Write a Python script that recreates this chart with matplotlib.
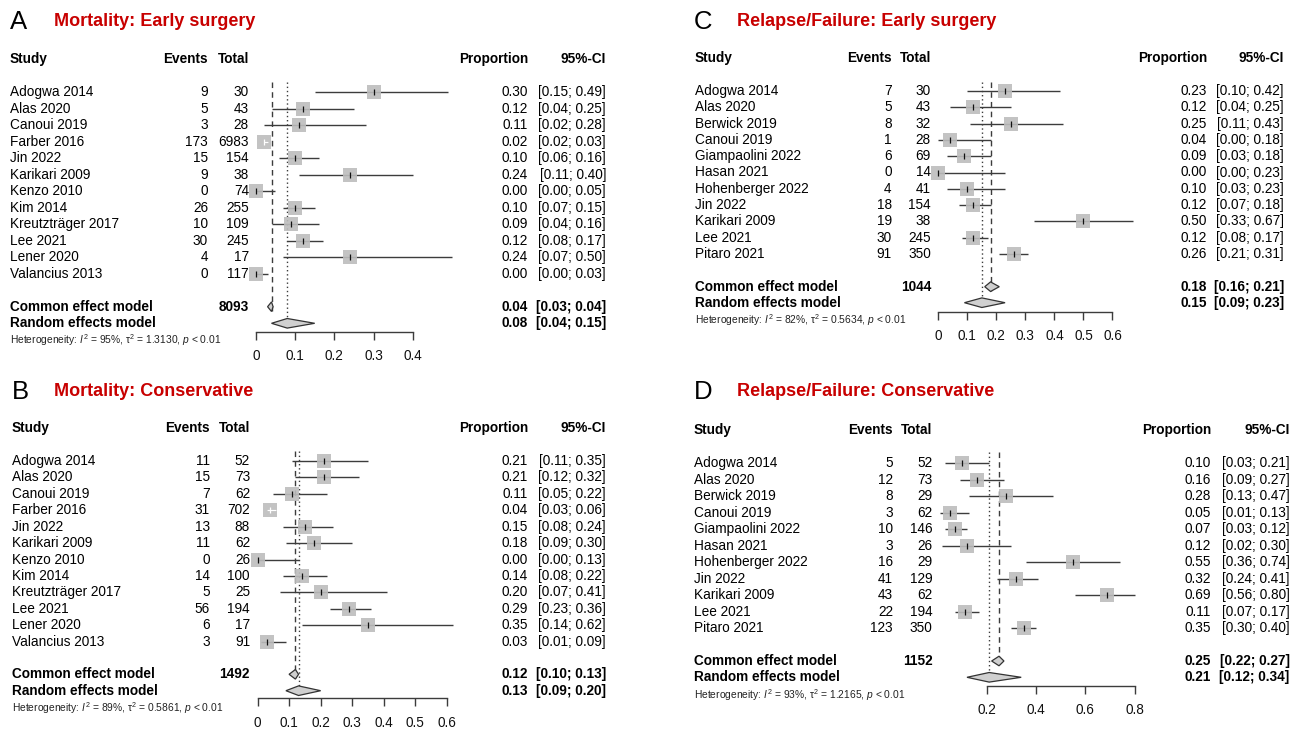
import matplotlib
matplotlib.use("Agg")
import matplotlib.pyplot as plt
import numpy as np

plt.rcParams['font.family'] = ['Liberation Sans', 'DejaVu Sans']
plt.rcParams['mathtext.fontset'] = 'custom'
plt.rcParams['mathtext.rm'] = 'Liberation Sans'
plt.rcParams['mathtext.it'] = 'Liberation Sans:italic'
plt.rcParams['mathtext.bf'] = 'Liberation Sans:bold'

W, H = 1301, 730

# ---------------- data ----------------
# Panel A: Mortality, early surgery
studies_A = ["Adogwa 2014", "Alas 2020", "Canoui 2019", "Farber 2016", "Jin 2022",
             "Karikari 2009", "Kenzo 2010", "Kim 2014", "Kreutzträger 2017",
             "Lee 2021", "Lener 2020", "Valancius 2013"]
events_A = [9, 5, 3, 173, 15, 9, 0, 26, 10, 30, 4, 0]
totals_A = [30, 43, 28, 6983, 154, 38, 74, 255, 109, 245, 17, 117]
prop_A = [0.30, 0.12, 0.11, 0.02, 0.10, 0.24, 0.00, 0.10, 0.09, 0.12, 0.24, 0.00]
lo_A = [0.15, 0.04, 0.02, 0.02, 0.06, 0.11, 0.00, 0.07, 0.04, 0.08, 0.07, 0.00]
hi_A = [0.49, 0.25, 0.28, 0.03, 0.16, 0.40, 0.05, 0.15, 0.16, 0.17, 0.50, 0.03]
common_A = [8093, 0.04, 0.03, 0.04]
random_A = [0.08, 0.04, 0.15]
het_A = ["95%", "1.3130", "< 0.01"]
ticks_A = [0, 0.1, 0.2, 0.3, 0.4]
ticklab_A = ["0", "0.1", "0.2", "0.3", "0.4"]

# Panel B: Mortality, conservative
studies_B = ["Adogwa 2014", "Alas 2020", "Canoui 2019", "Farber 2016", "Jin 2022",
             "Karikari 2009", "Kenzo 2010", "Kim 2014", "Kreutzträger 2017",
             "Lee 2021", "Lener 2020", "Valancius 2013"]
events_B = [11, 15, 7, 31, 13, 11, 0, 14, 5, 56, 6, 3]
totals_B = [52, 73, 62, 702, 88, 62, 26, 100, 25, 194, 17, 91]
prop_B = [0.21, 0.21, 0.11, 0.04, 0.15, 0.18, 0.00, 0.14, 0.20, 0.29, 0.35, 0.03]
lo_B = [0.11, 0.12, 0.05, 0.03, 0.08, 0.09, 0.00, 0.08, 0.07, 0.23, 0.14, 0.01]
hi_B = [0.35, 0.32, 0.22, 0.06, 0.24, 0.30, 0.13, 0.22, 0.41, 0.36, 0.62, 0.09]
common_B = [1492, 0.12, 0.10, 0.13]
random_B = [0.13, 0.09, 0.20]
het_B = ["89%", "0.5861", "< 0.01"]
ticks_B = [0, 0.1, 0.2, 0.3, 0.4, 0.5, 0.6]
ticklab_B = ["0", "0.1", "0.2", "0.3", "0.4", "0.5", "0.6"]

# Panel C: Relapse/Failure, early surgery
studies_C = ["Adogwa 2014", "Alas 2020", "Berwick 2019", "Canoui 2019", "Giampaolini 2022",
             "Hasan 2021", "Hohenberger 2022", "Jin 2022", "Karikari 2009", "Lee 2021",
             "Pitaro 2021"]
events_C = [7, 5, 8, 1, 6, 0, 4, 18, 19, 30, 91]
totals_C = [30, 43, 32, 28, 69, 14, 41, 154, 38, 245, 350]
prop_C = [0.23, 0.12, 0.25, 0.04, 0.09, 0.00, 0.10, 0.12, 0.50, 0.12, 0.26]
lo_C = [0.10, 0.04, 0.11, 0.00, 0.03, 0.00, 0.03, 0.07, 0.33, 0.08, 0.21]
hi_C = [0.42, 0.25, 0.43, 0.18, 0.18, 0.23, 0.23, 0.18, 0.67, 0.17, 0.31]
common_C = [1044, 0.18, 0.16, 0.21]
random_C = [0.15, 0.09, 0.23]
het_C = ["82%", "0.5634", "< 0.01"]
ticks_C = [0, 0.1, 0.2, 0.3, 0.4, 0.5, 0.6]
ticklab_C = ["0", "0.1", "0.2", "0.3", "0.4", "0.5", "0.6"]

# Panel D: Relapse/Failure, conservative
studies_D = ["Adogwa 2014", "Alas 2020", "Berwick 2019", "Canoui 2019", "Giampaolini 2022",
             "Hasan 2021", "Hohenberger 2022", "Jin 2022", "Karikari 2009", "Lee 2021",
             "Pitaro 2021"]
events_D = [5, 12, 8, 3, 10, 3, 16, 41, 43, 22, 123]
totals_D = [52, 73, 29, 62, 146, 26, 29, 129, 62, 194, 350]
prop_D = [0.10, 0.16, 0.28, 0.05, 0.07, 0.12, 0.55, 0.32, 0.69, 0.11, 0.35]
lo_D = [0.03, 0.09, 0.13, 0.01, 0.03, 0.02, 0.36, 0.24, 0.56, 0.07, 0.30]
hi_D = [0.21, 0.27, 0.47, 0.13, 0.12, 0.30, 0.74, 0.41, 0.80, 0.17, 0.40]
common_D = [1152, 0.25, 0.22, 0.27]
random_D = [0.21, 0.12, 0.34]
het_D = ["93%", "1.2165", "< 0.01"]
ticks_D = [0.2, 0.4, 0.6, 0.8]
ticklab_D = ["0.2", "0.4", "0.6", "0.8"]

# ---------------- layout (pixels) ----------------
LAY = {
    'A': dict(letter_x=10, title_x=54, title_y=22, study_x=10, ev_r=208, tot_r=249,
              prop_r=528, ci_r=606, px0=255.8, ppu=392.7, y0=92, dy=16.52,
              head_y=59, com_y=306.7, ran_y=323.3, het_y=340, axis_y=331.5, ref_top=82),
    'B': dict(letter_x=12, title_x=54, title_y=392, study_x=12, ev_r=210, tot_r=250,
              prop_r=528, ci_r=606, px0=257.5, ppu=315.8, y0=461, dy=16.43,
              head_y=428.3, com_y=674.3, ran_y=690.7, het_y=707.7, axis_y=698.3, ref_top=451),
    'C': dict(letter_x=694, title_x=737, title_y=22, study_x=695, ev_r=891.7, tot_r=931,
              prop_r=1207, ci_r=1284, px0=938.3, ppu=290.3, y0=91, dy=16.3,
              head_y=58.3, com_y=286.7, ran_y=302.7, het_y=320, axis_y=311.7, ref_top=82),
    'D': dict(letter_x=694, title_x=737, title_y=392, study_x=694, ev_r=893, tot_r=932.5,
              prop_r=1211, ci_r=1289.6, px0=937.4, ppu=246.5, y0=463.3, dy=16.5,
              head_y=430, com_y=661, ran_y=677.3, het_y=695, axis_y=685.7, ref_top=452),
}

FS = 9.8
RED = '#c80000'
LINE = '#3c3c3c'
SQ = '#bdbdbd'
SQ_PX = 13.5

fig = plt.figure(figsize=(W / 100, H / 100), dpi=100)


def ftext(x, y, s, **kw):
    kw.setdefault('fontsize', FS)
    kw.setdefault('va', 'center')
    fig.text(x / W, 1 - y / H, s, **kw)


def panel(key, title, studies, events, totals, prop, lo, hi, common, random_, het,
          ticks, ticklab):
    L = LAY[key]
    px0, ppu = L['px0'], L['ppu']
    xlo, xhi = -0.12, 0.95
    ytop, ybot = L['head_y'] - 20, L['axis_y'] + 40
    ax = fig.add_axes([(px0 + xlo * ppu) / W, 1 - ybot / H,
                       (xhi - xlo) * ppu / W, (ybot - ytop) / H])
    ax.set_xlim(xlo, xhi)
    ax.set_ylim(ybot, ytop)
    ax.patch.set_visible(False)
    for s in ['top', 'left', 'right']:
        ax.spines[s].set_visible(False)
    ax.spines['bottom'].set_position(('data', L['axis_y']))
    ax.spines['bottom'].set_bounds(ticks[0], ticks[-1])
    ax.spines['bottom'].set_color(LINE)
    ax.spines['bottom'].set_linewidth(1.0)
    ax.set_yticks([])
    ax.set_xticks(ticks)
    ax.set_xticklabels(ticklab)
    ax.tick_params(axis='x', direction='out', length=5.5, width=1.0, color=LINE,
                   pad=7, labelsize=FS, labelcolor='#111111')

    n = len(studies)
    rows = L['y0'] + np.arange(n) * L['dy']
    prop = np.array(prop); lo = np.array(lo); hi = np.array(hi)

    # reference lines
    ax.vlines(common[1], L['ref_top'], L['com_y'] + 4, colors=LINE, lw=1.0,
              linestyles=(0, (4, 3)), zorder=1)
    ax.vlines(random_[0], L['ref_top'], L['ran_y'] + 4, colors=LINE, lw=1.0,
              linestyles=(0, (1, 2)), zorder=1)

    # study CIs and squares
    ax.hlines(rows, lo, hi, colors=LINE, lw=1.0, zorder=2)
    s_pt = (SQ_PX * 0.72) ** 2
    ax.scatter(prop, rows, marker='s', s=s_pt, color=SQ, linewidths=0, zorder=3, alpha=0.9)
    half = SQ_PX / 2 / ppu
    inside = (lo >= prop - half) & (hi <= prop + half)
    out = ~inside
    ax.scatter(prop[out], rows[out], marker='|', s=14, color='#111111', linewidths=0.9, zorder=4)
    if inside.any():
        ax.hlines(rows[inside], lo[inside], hi[inside], colors='white', lw=0.9, zorder=4)
        ax.scatter(prop[inside], rows[inside], marker='|', s=14, color='white',
                   linewidths=0.9, zorder=4)

    # diamonds
    hh = 4.8
    for (est, l, h), yy in [((common[1], common[2], common[3]), L['com_y']),
                            ((random_[0], random_[1], random_[2]), L['ran_y'])]:
        l = min(l, est - 0.004); h = max(h, est + 0.004)
        ax.fill([l, est, h, est], [yy, yy - hh, yy, yy + hh], facecolor='#d0d0d0',
                edgecolor='#333333', lw=0.9, zorder=5)

    # texts
    ftext(L['letter_x'], L['title_y'], key, fontsize=18.5, ha='left')
    ftext(L['title_x'], L['title_y'], title, fontsize=13, weight='bold', color=RED, ha='left')
    hy = L['head_y']
    ftext(L['study_x'], hy, "Study", weight='bold', ha='left')
    ftext(L['ev_r'], hy, "Events", weight='bold', ha='right')
    ftext(L['tot_r'], hy, "Total", weight='bold', ha='right')
    ftext(L['prop_r'], hy, "Proportion", weight='bold', ha='right')
    ftext(L['ci_r'], hy, "95%-CI", weight='bold', ha='right')
    for i in range(n):
        y = rows[i]
        ftext(L['study_x'], y, studies[i], ha='left')
        ftext(L['ev_r'], y, f"{events[i]}", ha='right')
        ftext(L['tot_r'], y, f"{totals[i]}", ha='right')
        ftext(L['prop_r'], y, f"{prop[i]:.2f}", ha='right')
        ftext(L['ci_r'], y, f"[{lo[i]:.2f}; {hi[i]:.2f}]", ha='right')
    cy = L['com_y']
    ftext(L['study_x'], cy, "Common effect model", weight='bold', ha='left')
    ftext(L['tot_r'], cy, f"{common[0]}", weight='bold', ha='right')
    ftext(L['prop_r'], cy, f"{common[1]:.2f}", weight='bold', ha='right')
    ftext(L['ci_r'], cy, f"[{common[2]:.2f}; {common[3]:.2f}]", weight='bold', ha='right')
    ry = L['ran_y']
    ftext(L['study_x'], ry, "Random effects model", weight='bold', ha='left')
    ftext(L['prop_r'], ry, f"{random_[0]:.2f}", weight='bold', ha='right')
    ftext(L['ci_r'], ry, f"[{random_[1]:.2f}; {random_[2]:.2f}]", weight='bold', ha='right')
    ftext(L['study_x'], L['het_y'],
          r"Heterogeneity: $I^2$ = " + het[0] +
          r", $\mathrm{\tau}^2$ = " + het[1] + r", $p$ " + het[2],
          fontsize=7.4, ha='left', color='#222222')


panel('A', "Mortality: Early surgery", studies_A, events_A, totals_A, prop_A, lo_A, hi_A,
      common_A, random_A, het_A, ticks_A, ticklab_A)
panel('B', "Mortality: Conservative", studies_B, events_B, totals_B, prop_B, lo_B, hi_B,
      common_B, random_B, het_B, ticks_B, ticklab_B)
panel('C', "Relapse/Failure: Early surgery", studies_C, events_C, totals_C, prop_C, lo_C, hi_C,
      common_C, random_C, het_C, ticks_C, ticklab_C)
panel('D', "Relapse/Failure: Conservative", studies_D, events_D, totals_D, prop_D, lo_D, hi_D,
      common_D, random_D, het_D, ticks_D, ticklab_D)

fig.savefig("out.png", dpi=100)
